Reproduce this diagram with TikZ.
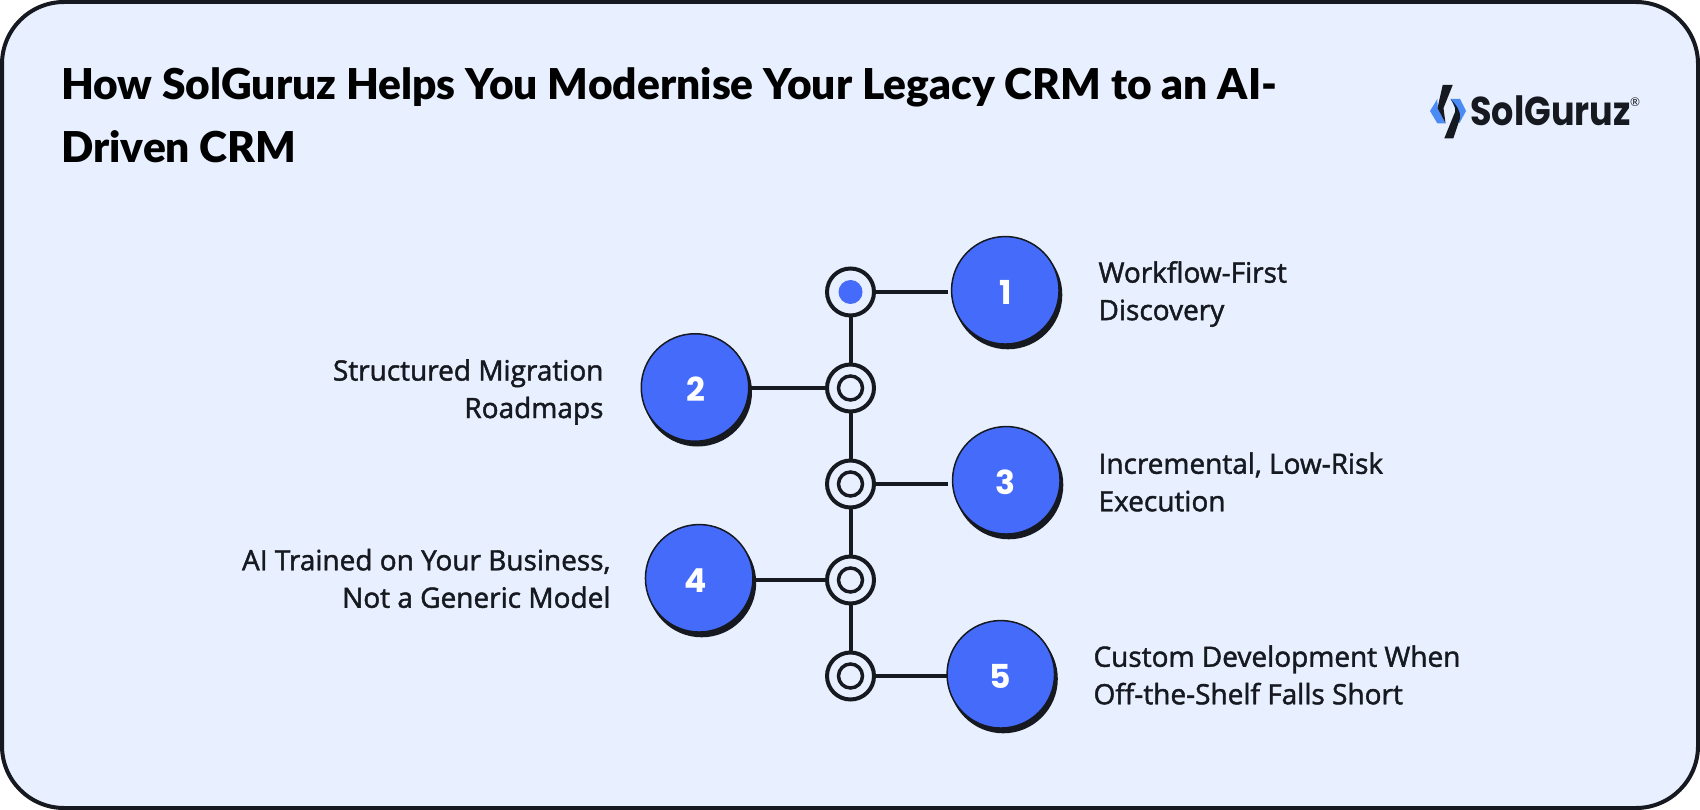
\documentclass[tikz,border=0pt]{standalone}
\usepackage{fontspec}
\setmainfont{Lato}
\newfontfamily\titlefont{Lato}[BoldFont={Lato Black}]
\newfontfamily\bodyfont{Open Sans}[FakeBold=1.6]
\newfontfamily\numfont{Poppins}
\definecolor{pagebg}{HTML}{E8EFFE}
\definecolor{ink}{HTML}{16191F}
\definecolor{brand}{HTML}{456BFB}
\definecolor{logoblue}{HTML}{4A8BF5}
\tikzset{
  x=1pt,y=-1pt,
  link/.style={draw=ink,line width=4pt},
  outerring/.style={circle,draw=ink,line width=4pt,fill=pagebg,minimum size=47pt,inner sep=0pt,outer sep=0pt},
  innerring/.style={circle,draw=ink,line width=3.5pt,fill=pagebg,minimum size=24pt,inner sep=0pt},
  innerdot/.style={circle,fill=brand,minimum size=24pt,inner sep=0pt},
  bigdisc/.style={circle,draw=ink,line width=1.5pt,fill=brand,minimum size=107.5pt,inner sep=0pt,outer sep=0pt},
  discshadow/.style={circle,fill=ink,minimum size=109pt,inner sep=0pt},
  numlabel/.style={inner sep=0pt,text=white,font=\numfont\fontsize{33}{33}\selectfont\bfseries},
  leftlabel/.style={align=right,anchor=east,font=\bodyfont\fontsize{28}{37.5}\selectfont,text=ink},
  rightlabel/.style={align=left,anchor=west,font=\bodyfont\fontsize{28}{37.5}\selectfont,text=ink},
}
\begin{document}
\begin{tikzpicture}
\useasboundingbox (0,0) rectangle (1700,810);
\path[fill=pagebg,draw=ink,line width=4pt,rounded corners=62pt] (2,2) rectangle (1698,808);
\node[anchor=north west,align=left,font=\titlefont\fontsize{42.5}{63}\selectfont\bfseries,text=black,inner sep=0pt] (title) at (61,67) {How SolGuruz Helps You Modernise Your Legacy CRM to an AI-\\Driven CRM};
% spine
\node[outerring] (r1) at (850.5,292) {};
\node[outerring] (r2) at (850.5,388) {};
\node[outerring] (r3) at (850.5,484) {};
\node[outerring] (r4) at (850.5,580) {};
\node[outerring] (r5) at (850.5,676) {};
\node[innerdot] (i1) at (r1) {};
\node[innerring] (i2) at (r2) {};
\node[innerring] (i3) at (r3) {};
\node[innerring] (i4) at (r4) {};
\node[innerring] (i5) at (r5) {};
\foreach \a/\b in {r1/r2,r2/r3,r3/r4,r4/r5}{\draw[link] (\a) -- (\b);}
% discs
\node[discshadow] at (1007.8,294.8) {};
\node[discshadow] at (697.5,392) {};
\node[discshadow] at (1008.8,484.8) {};
\node[discshadow] at (701.7,582.8) {};
\node[discshadow] at (1003.3,678.8) {};
\node[bigdisc] (d1) at (1005.3,290.3) {};
\node[bigdisc] (d2) at (695,387.5) {};
\node[bigdisc] (d3) at (1006.3,480.3) {};
\node[bigdisc] (d4) at (699.2,578.3) {};
\node[bigdisc] (d5) at (1000.8,674.3) {};
\node[numlabel] (n1) at (1006,292.3) {1};
\node[numlabel] (n2) at (696,389) {2};
\node[numlabel] (n3) at (1005.7,482.3) {3};
\node[numlabel] (n4) at (695.7,581) {4};
\node[numlabel] (n5) at (1000.7,676) {5};
\coordinate (e1) at (948.3,292);
\coordinate (e3) at (948.3,484);
\draw[link] (r1) -- (e1);
\draw[link] (r2) -- (r2 -| d2.east);
\draw[link] (r3) -- (e3);
\draw[link] (r4) -- (r4 -| d4.east);
\draw[link] (r5) -- (r5 -| d5.west);
% labels
\node[rightlabel] (t1) at (1095,294) {Workflow-First\\Discovery};
\node[leftlabel] (t2) at (607,392) {Structured Migration\\Roadmaps};
\node[rightlabel] (t3) at (1095,482) {Incremental, Low-Risk\\Execution};
\node[leftlabel] (t4) at (614,578.5) {AI Trained on Your Business,\\Not a Generic Model};
\node[rightlabel] (t5) at (1090,675) {Custom Development When\\Off-the-Shelf Falls Short};
% logo
\fill[logoblue] (1437.3,99) -- (1430,111) -- (1437.3,123.3) -- (1445.3,123.3) -- (1437.7,108) -- cycle;
\fill[logoblue] (1450.7,99) -- (1460,99) -- (1466,111) -- (1459.3,123.3) -- (1457,112) -- cycle;
\fill[ink] (1442.7,85) -- (1452.7,85) -- (1443.5,108) -- (1445.5,123.3) -- (1437.5,108) -- cycle;
\fill[ink] (1450.7,99) .. controls (1456,105) and (1461,111) .. (1460,118.3) -- (1453.3,138.3) -- (1444.3,138.3) -- (1455,112) .. controls (1456,108) and (1454,104) .. (1450.7,99) -- cycle;
\node[anchor=base west,inner sep=0pt,font=\numfont\fontsize{35}{35}\selectfont\bfseries,text=ink] (logo) at (1470,125.5) {\scalebox{1}[1.15]{SolGuruz}};
\node[anchor=center,inner sep=0pt,font=\fontsize{12}{12}\selectfont,text=ink] (reg) at (1635,102.5) {®};
\end{tikzpicture}
\end{document}
